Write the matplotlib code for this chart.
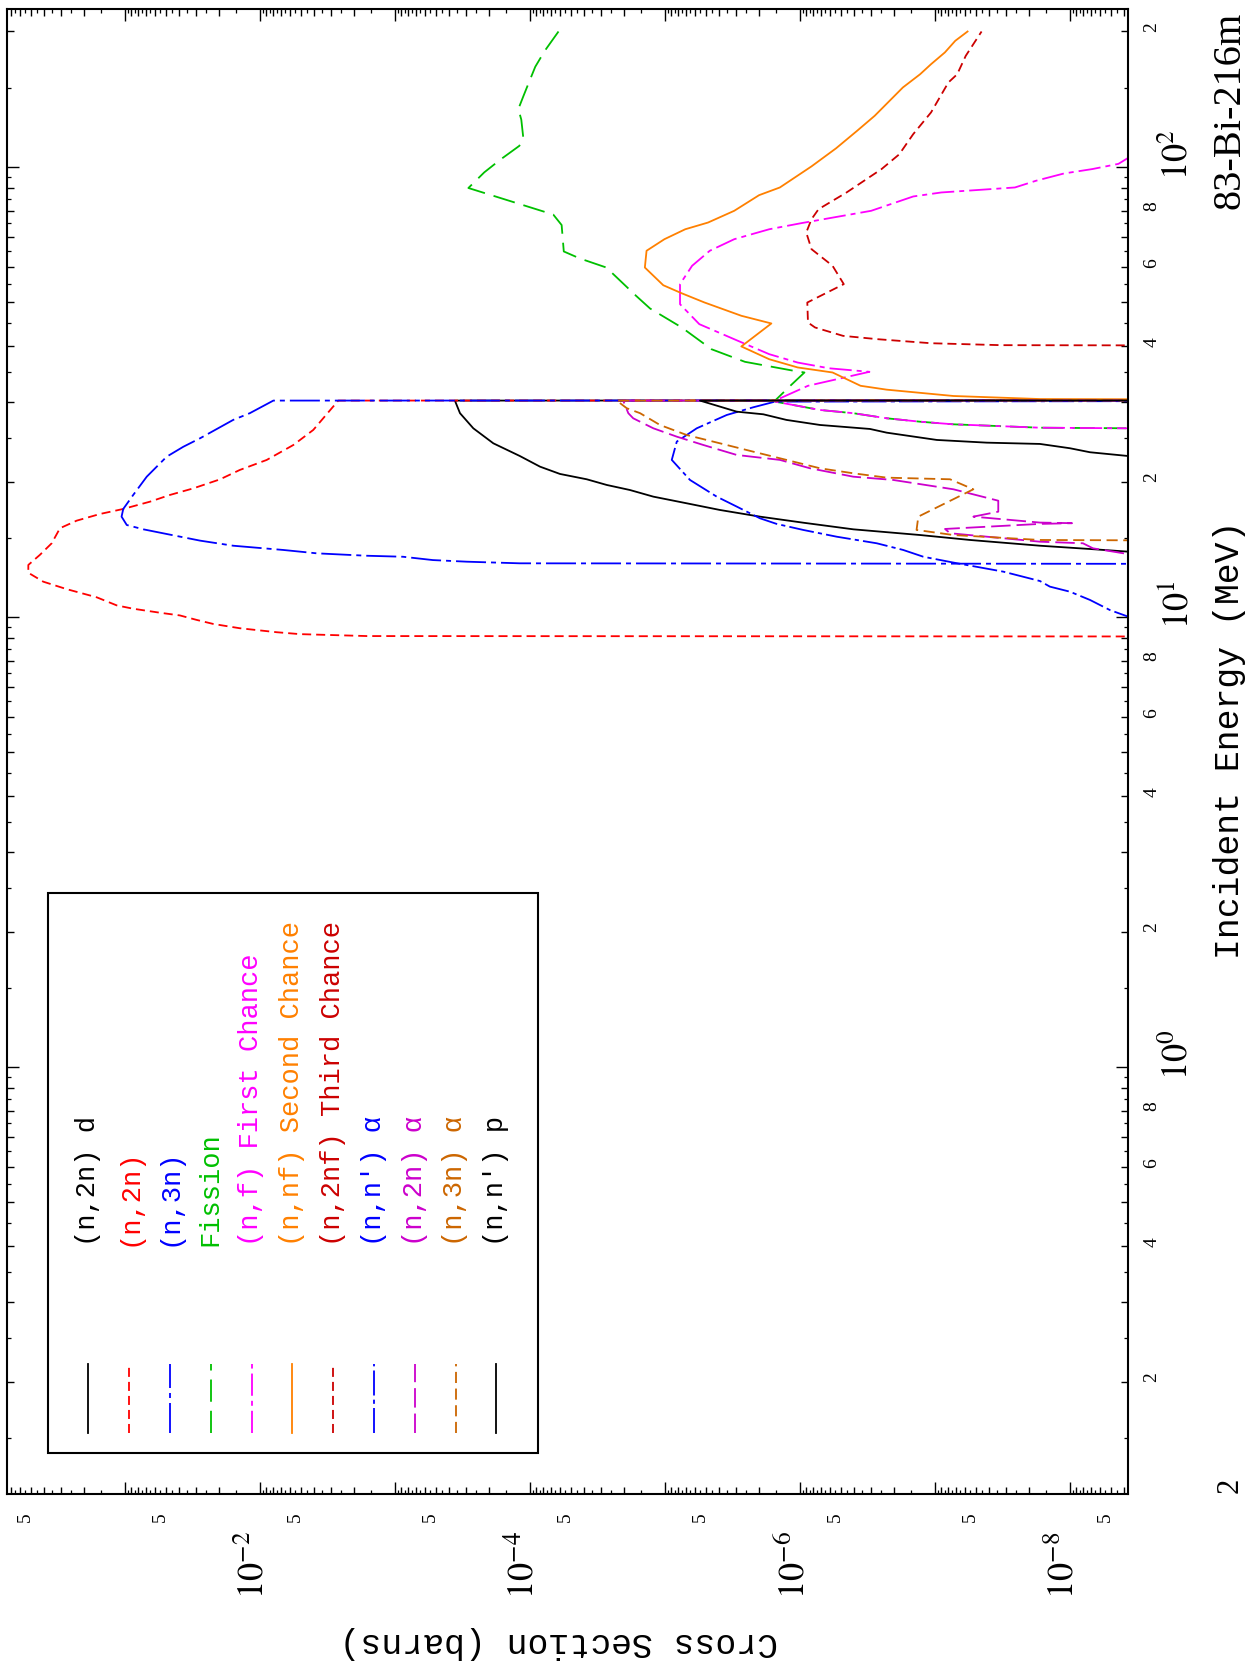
import matplotlib
matplotlib.use("Agg")
import matplotlib.pyplot as plt
import numpy as np
from matplotlib.lines import Line2D
from matplotlib.patches import Rectangle
from matplotlib.ticker import FixedLocator, NullFormatter
from matplotlib.transforms import blended_transform_factory, offset_copy

plt.rcParams['mathtext.fontset'] = 'stix'
plt.rcParams['lines.scale_dashes'] = False

TINY = 1e-12

# energies in MeV, cross sections in barns
n2nd_e = [13.9, 13.97, 14.16, 14.40, 14.83, 15.21, 15.66, 16.20, 16.71, 17.29, 17.89, 18.51,
          19.15, 19.65, 20.23, 20.79, 21.58, 22.79, 24.32, 26.26, 28.37, 30.26, 30.3]
n2nd_xs = [1e-10, 3.72e-9, 7.11e-9, 1.67e-8, 5.51e-8, 1.29e-7, 4.03e-7, 9.46e-7, 1.98e-6, 3.92e-6,
           6.90e-6, 1.22e-5, 1.82e-5, 2.70e-5, 3.80e-5, 6.00e-5, 8.43e-5, 1.19e-4, 1.87e-4,
           2.63e-4, 3.30e-4, 3.60e-4, TINY]

n2n_e = [9.04, 9.07, 9.16, 9.25, 9.44, 9.65, 9.85, 10.08, 10.22, 10.43, 10.61, 11.06, 11.53,
         11.98, 12.54, 13.05, 13.74, 14.58, 15.75, 16.37, 16.94, 17.38, 18.04, 18.67, 19.31,
         20.22, 21.22, 22.33, 24.11, 26.04, 30.26, 30.3]
n2n_xs = [TINY, 1.61e-3, 5.06e-3, 7.52e-3, 1.41e-2, 2.22e-2, 2.94e-2, 3.92e-2, 5.51e-2, 8.67e-2,
          0.115, 0.162, 0.270, 0.403, 0.520, 0.520, 0.427, 0.349, 0.303, 0.228, 0.153, 0.103,
          6.53e-2, 4.65e-2, 3.12e-2, 1.98e-2, 1.41e-2, 8.93e-3, 5.66e-3, 4.03e-3, 2.63e-3, TINY]

n3n_e = [13.1, 13.16, 13.27, 13.38, 13.61, 13.68, 13.85, 14.09, 14.40, 14.78, 15.29, 15.66,
         16.01, 16.71, 17.38, 18.67, 20.50, 22.71, 23.89, 24.95, 27.41, 28.37, 30.26, 30.3]
n3n_xs = [TINY, 1.19e-4, 2.94e-4, 5.24e-4, 8.73e-4, 1.62e-3, 3.80e-3, 6.71e-3, 1.58e-2, 2.78e-2,
          4.91e-2, 7.31e-2, 9.70e-2, 0.106, 0.103, 8.69e-2, 6.90e-2, 4.91e-2, 3.70e-2, 2.78e-2,
          1.58e-2, 1.19e-2, 7.96e-3, TINY]

# first chance fission below 30 MeV (fission total coincides there)
nf_low_e = [26.2, 26.26, 26.34, 26.80, 27.16, 27.64, 28.37, 28.84, 30.10, 30.26]
nf_low_xs = [TINY, 3.72e-9, 1.67e-8, 7.31e-8, 1.29e-7, 2.28e-7, 4.03e-7, 7.11e-7, 1.53e-6, 1.53e-6]

fis_high_e = [32.64, 34.94, 35.24, 36.90, 39.36, 43.99, 48.47, 51.74, 59.78, 62.61, 64.9, 74.3,
              78.4, 89.8, 97.3, 103.8, 111.4, 115.7, 127.4, 134.5, 143.6, 154.0, 167.0, 181.1, 200.0]
fis_high_xs = [1.18e-6, 9.27e-7, 1.11e-6, 2.56e-6, 4.53e-6, 7.52e-6, 1.29e-5, 1.64e-5, 2.72e-5,
               4.27e-5, 5.62e-5, 5.83e-5, 6.73e-5, 2.86e-4, 2.18e-4, 1.66e-4, 1.20e-4, 1.12e-4,
               1.16e-4, 1.22e-4, 1.12e-4, 1.02e-4, 9.14e-5, 7.78e-5, 6.15e-5]

nf_high_e = [32.64, 35.06, 35.70, 36.76, 38.37, 41.10, 44.74, 49.55, 54.91, 60.31, 65.13, 69.10,
             72.71, 74.99, 79.91, 85.99, 87.77, 90.04, 93.17, 96.72, 98.92, 101.6, 104.7, 106.0]
nf_high_xs = [8.73e-7, 3.06e-7, 6.10e-7, 1.04e-6, 1.69e-6, 2.89e-6, 5.57e-6, 7.74e-6, 7.74e-6,
              6.30e-6, 4.66e-6, 3.07e-6, 1.69e-6, 9.84e-7, 2.97e-7, 1.45e-7, 8.98e-8, 2.56e-8,
              1.79e-8, 1.11e-8, 6.85e-9, 4.38e-9, 3.72e-9, 1e-11]

nnf_e = [30.3, 30.5, 30.98, 32.0, 32.64, 34.94, 35.85, 37.39, 39.92, 44.90, 46.7, 50.0, 52.4,
         54.6, 59.78, 65.13, 69.10, 72.71, 75.25, 79.91, 86.56, 90.04, 100.3, 110.0, 120.3,
         129.9, 150.2, 160.7, 169.2, 179.7, 190.7, 200.0]
nnf_xs = [TINY, 1.67e-8, 7.31e-8, 2.28e-7, 3.56e-7, 5.74e-7, 1.04e-6, 1.69e-6, 2.72e-6, 1.63e-6,
          2.72e-6, 5.11e-6, 7.52e-6, 1.03e-5, 1.41e-5, 1.37e-5, 1.01e-5, 7.08e-6, 4.80e-6,
          3.07e-6, 2.01e-6, 1.41e-6, 8.22e-7, 5.41e-7, 3.78e-7, 2.80e-7, 1.73e-7, 1.29e-7,
          1.07e-7, 8.45e-8, 7.08e-8, 5.74e-8]

n2nf_e = [40.0, 40.18, 40.58, 41.42, 42.14, 43.99, 45.12, 49.98, 54.91, 60.31, 65.67, 71.51,
          76.55, 80.57, 87.77, 98.92, 106.7, 118.3, 132.2, 154.1, 160.7, 176.6, 200.0]
n2nf_xs = [TINY, 3.24e-8, 1.07e-7, 2.64e-7, 4.80e-7, 7.74e-7, 8.73e-7, 8.83e-7, 4.74e-7, 5.74e-7,
           8.22e-7, 8.99e-7, 8.22e-7, 7.29e-7, 4.52e-7, 2.49e-7, 1.84e-7, 1.45e-7, 1.07e-7,
           7.96e-8, 6.85e-8, 5.92e-8, 4.52e-8]

nna_e = [9.9, 10.02, 10.36, 10.91, 11.38, 11.68, 12.02, 12.61, 13.21, 13.61, 14.09, 14.58, 15.08,
         15.61, 16.10, 16.57, 17.59, 18.51, 20.16, 22.34, 24.53, 26.26, 28.11, 29.24, 30.10, 30.26]
nna_xs = [1e-11, 3.72e-9, 5.06e-9, 7.11e-9, 1.0e-8, 1.41e-8, 1.67e-8, 3.12e-8, 7.31e-8, 1.22e-7,
          1.72e-7, 2.70e-7, 5.35e-7, 9.46e-7, 1.49e-6, 1.98e-6, 2.94e-6, 4.14e-6, 6.53e-6,
          8.91e-6, 8.18e-6, 5.82e-6, 3.49e-6, 2.22e-6, 1.53e-6, TINY]

n2na_e = [13.7, 13.80, 14.21, 14.58, 14.70, 15.35, 15.69, 16.10, 16.16, 16.21, 16.71, 17.14, 18.13,
          19.22, 20.16, 20.50, 21.40, 22.34, 22.91, 24.11, 25.16, 26.26, 27.64, 28.37, 30.26, 30.3]
n2na_xs = [1e-11, 3.72e-9, 6.76e-9, 8.02e-9, 1.67e-8, 7.74e-8, 8.43e-8, 1.67e-8, 9.66e-9, 1.67e-8,
           5.20e-8, 3.40e-8, 3.40e-8, 7.31e-8, 2.04e-7, 4.03e-7, 8.43e-7, 1.41e-6, 2.94e-6,
           5.20e-6, 8.18e-6, 1.22e-5, 1.72e-5, 1.87e-5, 2.04e-5, TINY]

n3na_e = [14.66, 14.83, 15.21, 15.61, 16.71, 19.22, 20.23, 20.40, 20.86, 21.40, 22.34, 23.30,
          24.32, 25.37, 26.71, 28.37, 29.10, 30.26, 30.3]
n3na_xs = [TINY, 1.67e-8, 7.31e-8, 1.37e-7, 1.33e-7, 5.20e-8, 7.74e-8, 2.28e-7, 4.03e-7, 7.11e-7,
           1.26e-6, 2.22e-6, 3.92e-6, 6.90e-6, 1.09e-5, 1.53e-5, 1.92e-5, 2.28e-5, TINY]

nnp_e = [22.6, 22.79, 23.23, 23.71, 24.24, 24.40, 24.74, 25.68, 26.17, 26.71, 27.41, 28.21,
         28.59, 30.26, 30.3]
nnp_xs = [1e-10, 3.72e-9, 7.11e-9, 1.0e-8, 1.67e-8, 4.14e-8, 9.70e-8, 2.28e-7, 3.03e-7, 7.11e-7,
          1.26e-6, 1.87e-6, 2.94e-6, 5.51e-6, TINY]

fis_e = nf_low_e + fis_high_e
fis_xs = nf_low_xs + fis_high_xs
nf_e = nf_low_e + nf_high_e
nf_xs = nf_low_xs + nf_high_xs

DASH = (0, (6.5, 3.6))
DASHDOT = (0, (21.6, 3.6, 3.6, 3.6))
LONGDASH = (0, (16, 6.5))
FCDASH = (0, (16, 3.6, 3.6, 3.6))
NADASH = (0, (18, 3, 3, 3))
N2ADASH = (0, (14, 4.3))
N3ADASH = (0, (8, 4))

series = [
    ("(n,2n) d", n2nd_e, n2nd_xs, "black", "-", "black"),
    ("(n,2n)", n2n_e, n2n_xs, "#ff0000", DASH, "#ff0000"),
    ("(n,3n)", n3n_e, n3n_xs, "#0000ff", DASHDOT, "#0000ff"),
    ("Fission", fis_e, fis_xs, "#00c000", LONGDASH, "#00c000"),
    ("(n,f) First Chance", nf_e, nf_xs, "#ff00ff", FCDASH, "#ff00ff"),
    ("(n,nf) Second Chance", nnf_e, nnf_xs, "#ff8000", "-", "#ff8000"),
    ("(n,2nf) Third Chance", n2nf_e, n2nf_xs, "#cc0000", DASH, "#cc0000"),
    ("(n,n') α", nna_e, nna_xs, "#0000ff", NADASH, "#0000ff"),
    ("(n,2n) α", n2na_e, n2na_xs, "#cc00cc", N2ADASH, "#cc00cc"),
    ("(n,3n) α", n3na_e, n3na_xs, "#cc6600", N3ADASH, "#cc6600"),
    ("(n,n') p", nnp_e, nnp_xs, "black", "-", "black"),
]

W, H = 1250, 1662
fig = plt.figure(figsize=(12.5, 16.62), dpi=100)
rect = [7 / W, 1 - 1494 / H, (1128 - 7) / W, (1494 - 9) / H]
ax = fig.add_axes(rect)

for label, e, xs, col, ls, tcol in series:
    ax.plot(xs, e, color=col, lw=1.3, linestyle=ls)

ax.set_xscale("log")
ax.set_yscale("log")
ax.set_xlim(0.748, 3.72e-9)
ax.set_ylim(0.1125, 224.4)

for s in ax.spines.values():
    s.set_linewidth(1.5)

x_major = [10.0 ** k for k in range(-9, 1)]
x_minor = [m * 10.0 ** k for k in range(-10, 1) for m in range(2, 10)]
y_major = [10.0 ** k for k in range(-1, 3)]
y_minor = [m * 10.0 ** k for k in range(-2, 3) for m in range(2, 10)]
ax.xaxis.set_major_locator(FixedLocator(x_major))
ax.xaxis.set_minor_locator(FixedLocator(x_minor))
ax.yaxis.set_major_locator(FixedLocator(y_major))
ax.yaxis.set_minor_locator(FixedLocator(y_minor))
for axis in (ax.xaxis, ax.yaxis):
    axis.set_major_formatter(NullFormatter())
    axis.set_minor_formatter(NullFormatter())
ax.tick_params(which="both", direction="in", top=True, right=True, bottom=True, left=True,
               labelbottom=False, labelleft=False, width=1.0)
ax.tick_params(which="major", length=8.5)
ax.tick_params(which="minor", length=5)

# finer half-step ticks on an overlay
fine = [m * 10.0 ** k for k in range(-10, 3) for m in np.arange(1.5, 10, 1.0)]
ax2 = fig.add_axes(rect, frameon=False)
ax2.set_xscale("log")
ax2.set_yscale("log")
ax2.set_xlim(ax.get_xlim())
ax2.set_ylim(ax.get_ylim())
ax2.xaxis.set_major_locator(FixedLocator(fine))
ax2.yaxis.set_major_locator(FixedLocator(fine))
ax2.xaxis.set_minor_locator(FixedLocator([]))
ax2.yaxis.set_minor_locator(FixedLocator([]))
ax2.tick_params(which="major", direction="in", top=True, right=True, bottom=True, left=True,
                labelbottom=False, labelleft=False, length=3, width=0.9)

# tick labels
serif = "Liberation Serif"
mono = "Liberation Mono"
tx = blended_transform_factory(ax.transData, fig.transFigure)
tx_minor = offset_copy(tx, fig=fig, x=-5, y=0, units="dots")
tx_major = offset_copy(tx, fig=fig, x=-7, y=0, units="dots")
for k in range(-9, 0):
    ax.text(5 * 10.0 ** k, 1 - 1517 / H, "5", transform=tx_minor, rotation=90,
            ha="center", va="center", fontsize=14, family=serif)
for k in (-2, -4, -6, -8):
    ax.text(10.0 ** k, 1 - 1565 / H, r"$10^{%d}$" % k, transform=tx_major, rotation=90,
            ha="center", va="center", fontsize=26)

ty = blended_transform_factory(fig.transFigure, ax.transData)
ty_minor = offset_copy(ty, fig=fig, x=0, y=4, units="dots")
ty_major = offset_copy(ty, fig=fig, x=0, y=12, units="dots")
for k in (-1, 0, 1, 2):
    for m in (2, 4, 6, 8):
        v = m * 10.0 ** k
        if v > 224:
            continue
        ax.text(1152 / W, v, str(m), transform=ty_minor, rotation=90,
                ha="center", va="center", fontsize=14, family=serif)
for k in (0, 1, 2):
    ax.text(1177 / W, 10.0 ** k, r"$10^{%d}$" % k, transform=ty_major, rotation=90,
            ha="center", va="center", fontsize=26)

fig.text(1230 / W, 1 - 1485 / H, "2", rotation=90, ha="center", va="center",
         fontsize=22, family=serif)

# axis titles
fig.text(1230 / W, 1 - 740 / H, "Incident Energy (MeV)", rotation=90, ha="center",
         va="center", fontsize=25, family=mono)
fig.text(1230 / W, 1 - 110 / H, "83-Bi-216m", rotation=90, ha="center", va="center",
         fontsize=29, family=serif)
fig.text(559 / W, 1 - 1642 / H, "Cross Section (barns)", rotation=180, ha="center",
         va="center", fontsize=25, family=mono)

# legend, drawn rotated like the rest of the page
fig.add_artist(Rectangle((48 / W, 1 - 1453 / H), 490 / W, 560 / H, fill=False,
                         lw=1.5, edgecolor="black", transform=fig.transFigure))
for i, (label, e, xs, col, ls, tcol) in enumerate(series):
    lx = (88.3 + 40.8 * i) / W
    fig.add_artist(Line2D([lx, lx], [1 - 1433 / H, 1 - 1364 / H], color=col, lw=1.3,
                          linestyle=ls, transform=fig.transFigure))
    fig.text(lx, 1 - 1246 / H, label, rotation=90, ha="center", va="bottom",
             color=tcol, fontsize=19.5, family=mono)

fig.savefig("out.png", dpi=100)
